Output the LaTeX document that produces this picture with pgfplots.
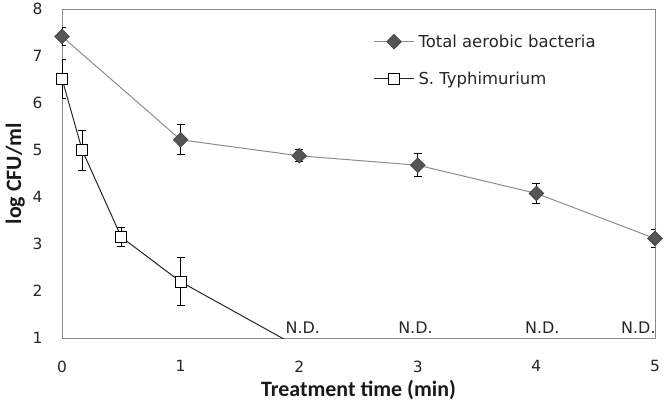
\documentclass[border=0pt]{standalone}
\usepackage{pgfplots}
\pgfplotsset{compat=1.18}
\usepackage{fontspec}
\setmainfont{DejaVu Sans}
\newfontfamily\labelfont{Carlito}
\definecolor{aerline}{HTML}{8C8C8C}
\definecolor{aermark}{HTML}{555555}
\definecolor{spine}{HTML}{8A8A8A}
\begin{document}
\begin{tikzpicture}
\begin{axis}[
  scale only axis, width=593bp, height=329bp,
  xmin=0, xmax=5, ymin=1, ymax=8,
  xtick={0,1,2,3,4,5}, ytick={1,2,3,4,5,6,7,8},
  tick style={draw=none},
  axis line style={spine, line width=0.9pt},
  /pgf/number format/assume math mode=true,
  tick label style={font=\fontsize{15.5}{15.5}\selectfont, text=black!85},
  xticklabel style={yshift=-19bp},
  yticklabel style={xshift=-16bp},
  xlabel={\labelfont\bfseries Treatment time (min)},
  ylabel={\labelfont\bfseries log CFU/ml},
  label style={font=\fontsize{22}{22}\selectfont, text=black!90},
  xlabel style={yshift=-1bp},
  ylabel style={yshift=1bp},
  clip=true,
  legend style={draw=none, fill=none, at={(0.52,0.935)}, anchor=north west,
     font=\fontsize{16.5}{16.5}\selectfont, row sep=19bp, text=black!85,
     nodes={inner xsep=4bp}},
  legend cell align=left,
  legend image code/.code={
    \draw[#1] (0bp,0bp) -- (40bp,0bp);
    \draw[#1, mark repeat=1] plot coordinates {(20bp,0bp)};
  },
  error bars/y dir=both, error bars/y explicit,
  error bars/error bar style={black, line width=0.9pt},
  error bars/error mark options={rotate=90, mark size=4bp, black, line width=0.9pt},
]
\addplot[color=aerline, line width=1pt, mark=square*, mark size=5.2bp,
  mark options={rotate=45, fill=aermark, draw=aermark!80!black, line width=0.6pt}]
  table[x=x, y=y, y error=e] {
x y e
0 7.42 0.20
1 5.22 0.32
2 4.88 0.13
3 4.68 0.24
4 4.08 0.22
5 3.12 0.20
};
\addlegendentry{Total aerobic bacteria}
\addplot[color=black!85, line width=1pt, mark=square*, mark size=5.5bp,
  mark options={fill=white, draw=black, line width=0.9pt}]
  table[x=x, y=y, y error=e] {
x y e
0 6.52 0.42
0.17 5.00 0.43
0.5 3.15 0.20
1 2.20 0.51
2 0.80 0
};
\addlegendentry{S. Typhimurium}
\node[anchor=south, font=\fontsize{16}{16}\selectfont, text=black!85, yshift=1bp] at (axis cs:2.03,1) {N.D.};
\node[anchor=south, font=\fontsize{16}{16}\selectfont, text=black!85, yshift=1bp] at (axis cs:2.98,1) {N.D.};
\node[anchor=south, font=\fontsize{16}{16}\selectfont, text=black!85, yshift=1bp] at (axis cs:4.05,1) {N.D.};
\node[anchor=south, font=\fontsize{16}{16}\selectfont, text=black!85, yshift=1bp] at (axis cs:4.86,1) {N.D.};
\end{axis}
\path (current axis.south west) ++(-62bp,-70bp) coordinate (bbsw);
\path (current axis.north east) ++(11bp,7bp) coordinate (bbne);
\useasboundingbox (bbsw) rectangle (bbne);
\end{tikzpicture}
\end{document}
